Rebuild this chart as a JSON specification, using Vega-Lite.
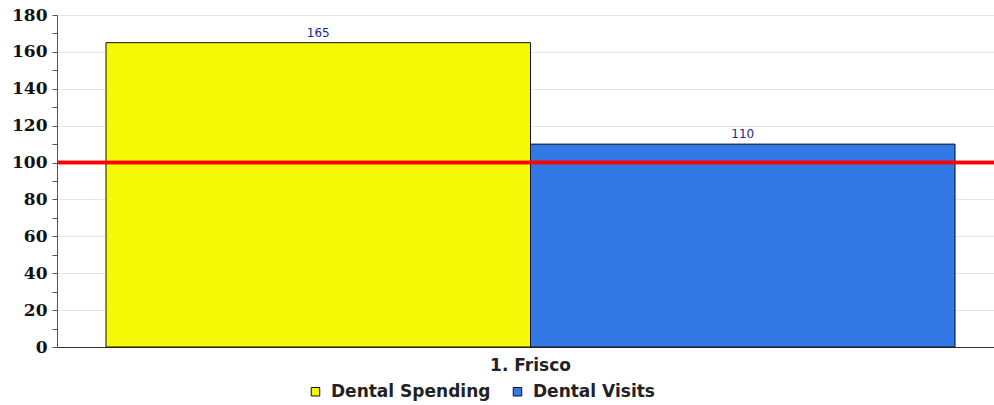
{
  "$schema": "https://vega.github.io/schema/vega-lite/v6.json",
  "autosize": "none",
  "width": 937,
  "height": 332,
  "padding": {"left": 57, "top": 15, "right": 0, "bottom": 58},
  "background": "white",
  "data": {
    "values": [
      {"region": "1. Frisco", "series": "Dental Spending", "value": 165},
      {"region": "1. Frisco", "series": "Dental Visits", "value": 110}
    ]
  },
  "config": {
    "view": {"stroke": null},
    "font": "DejaVu Sans"
  },
  "encoding": {
    "x": {
      "field": "region",
      "type": "nominal",
      "scale": {"paddingInner": 0, "paddingOuter": 0.0518, "align": 0.557},
      "axis": {
        "title": null,
        "labelAngle": 0,
        "ticks": false,
        "domainColor": "#333333",
        "domainWidth": 1,
        "labelFont": "DejaVu Sans",
        "labelFontWeight": "bold",
        "labelFontSize": 17,
        "labelColor": "#222222",
        "labelPadding": 10
      }
    },
    "xOffset": {"field": "series", "type": "nominal", "scale": {"paddingInner": 0, "paddingOuter": 0}},
    "y": {
      "field": "value",
      "type": "quantitative",
      "scale": {"domain": [0, 180], "nice": false},
      "axis": {
        "title": null,
        "values": [0, 10, 20, 30, 40, 50, 60, 70, 80, 90, 100, 110, 120, 130, 140, 150, 160, 170, 180],
        "labelExpr": "datum.value % 20 === 0 ? datum.label : ''",
        "labelOverlap": false,
        "labelBound": false,
        "labelFlush": false,
        "gridOpacity": {"condition": {"test": "datum.value % 20 === 0", "value": 1}, "value": 0},
        "gridColor": "#e6e6e6",
        "domainColor": "#555555",
        "tickColor": "#555555",
        "tickSize": 5,
        "labelFont": "DejaVu Serif",
        "labelFontWeight": "bold",
        "labelFontSize": 17,
        "labelColor": "#111111",
        "labelPadding": 5
      }
    }
  },
  "layer": [
    {
      "mark": {"type": "bar", "stroke": "#111111", "strokeWidth": 1},
      "encoding": {
        "color": {
          "field": "series",
          "type": "nominal",
          "scale": {"domain": ["Dental Spending", "Dental Visits"], "range": ["#f5f906", "#3279e6"]},
          "legend": {
            "title": null,
            "orient": "none",
            "legendX": 250,
            "legendY": 368,
            "direction": "horizontal",
            "symbolType": "square",
            "symbolSize": 72,
            "symbolStrokeColor": "#111111",
            "symbolStrokeWidth": 1,
            "labelFont": "DejaVu Sans",
            "labelFontWeight": "bold",
            "labelFontSize": 17,
            "labelColor": "#222222",
            "labelOffset": 7,
            "columnPadding": 18
          }
        }
      }
    },
    {
      "mark": {"type": "text", "baseline": "bottom", "dy": -3, "fontSize": 12, "color": "#22229a", "font": "DejaVu Sans"},
      "encoding": {
        "text": {"field": "value", "type": "quantitative"}
      }
    },
    {
      "mark": {"type": "rule", "color": "#ff0000", "strokeWidth": 3.5},
      "encoding": {"y": {"datum": 100}, "x": null, "xOffset": null}
    }
  ]
}
